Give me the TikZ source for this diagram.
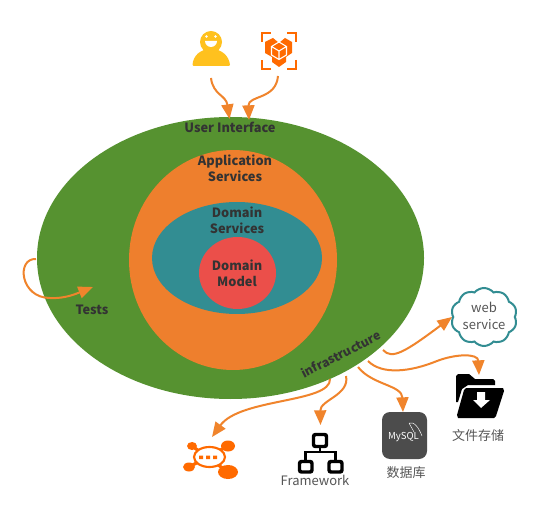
\documentclass[tikz,border=0pt]{standalone}
\usepackage{fontspec}
\setmainfont{Noto Sans CJK SC}
\usetikzlibrary{arrows.meta,shapes.symbols}
\definecolor{cgreen}{HTML}{569230}
\definecolor{corange}{HTML}{EE7F2D}
\definecolor{cteal}{HTML}{328D92}
\definecolor{cred}{HTML}{EB4F4A}
\definecolor{carrow}{HTML}{F0842C}
\definecolor{cicon}{HTML}{FF6A00}
\definecolor{cyellow}{HTML}{FFC11E}
\definecolor{cdark}{HTML}{333333}
\definecolor{cgray}{HTML}{555555}
\tikzset{
  conn/.style={draw=carrow,line width=1.5pt,-{Triangle[length=11pt,width=9pt]}},
  layer/.style={font=\fontsize{9.6}{12}\selectfont\bfseries,text=cdark,align=center,inner sep=0pt},
  captxt/.style={font=\fontsize{9.75}{12.5}\selectfont,text=cgray,align=center,inner sep=0pt},
}
\begin{document}
\begin{tikzpicture}[x=0.75pt,y=-0.75pt]
\useasboundingbox (0,0) rectangle (552,523);
\fill[white] (0,0) rectangle (552,523);
% layers
\fill[cgreen] (230.5,258) ellipse [x radius=193.5,y radius=141];
\fill[corange] (233,260) ellipse [x radius=104,y radius=110];
\fill[cteal] (237,258) ellipse [x radius=85,y radius=56];
\fill[cred] (237.5,273) ellipse [x radius=38.5,y radius=36];
% labels
\node[layer] (ui) at (230,127) {User Interface};
\node[layer] (app) at (235,168) {Application\\Services};
\node[layer] (ds) at (237,220) {Domain\\Services};
\node[layer] (dm) at (237,273) {Domain\\Model};
\node[layer] (tests) at (92,310) {Tests};
\node[layer,font=\fontsize{9.2}{11}\selectfont\bfseries,rotate=27] (infra) at (341,354) {infrastructure};
% anchors
\coordinate (personBase) at (211,78);
\coordinate (cubeBase) at (278,76);
\coordinate (uiA) at (229.5,119);
\coordinate (uiB) at (249,120);
\coordinate (testIn) at (36,259);
\coordinate (testOut) at (93,287);
\coordinate (o1) at (383,350);
\coordinate (o2) at (368,361);
\coordinate (o3) at (358,367);
\coordinate (o4) at (346,376);
\coordinate (o5) at (330,379);
\coordinate (webIn) at (452,317);
\coordinate (fileIn) at (479,375);
\coordinate (dbIn) at (403,412);
\coordinate (fwIn) at (320.5,425);
\coordinate (robotIn) at (212,437);
% connectors
\draw[conn] (personBase) .. controls (213,95) and (226,95) .. (uiA);
\draw[conn] (cubeBase) .. controls (276,100) and (248,95) .. (uiB);
\draw[conn] (testIn) .. controls (16,258) and (20,298) .. (50,298) .. controls (65,299) and (78,293) .. (testOut);
\draw[conn] (o1) .. controls (392,360) and (405,352) .. (webIn);
\draw[conn] (o2) .. controls (382,375) and (410,372) .. (437,361) .. controls (455,354) and (478,353) .. (fileIn);
\draw[conn] (o3) .. controls (372,385) and (402,385) .. (dbIn);
\draw[conn] (o4) .. controls (350,395) and (320,400) .. (fwIn);
\draw[conn] (o5) .. controls (331,403) and (240,398) .. (robotIn);
% cloud
\node[cloud,cloud puffs=10,cloud puff arc=100,aspect=1.15,draw=cteal,line width=1.5pt,minimum width=66*0.75pt,minimum height=58*0.75pt,inner sep=0pt,fill=white] (web) at (484,317) {};
\node[captxt] (webt) at (484,316) {web\\service};
% person
\fill[cyellow] (192.5,65) .. controls (193,56) and (200,49) .. (211,49) .. controls (222,49) and (229,56) .. (230,65) -- (229,66) -- (193.5,66) -- cycle;
\fill[cyellow] (211,42) circle [radius=11];
\fill[white] (205,41) arc [start angle=180,end angle=0,radius=6] -- cycle;
\fill[white] (206.5,36.5) circle [radius=1.3] (215.5,36.5) circle [radius=1.3];
% cube icon
\draw[cicon,line width=1.5pt] (262,42) -- (262,33) -- (271,33) (287,33) -- (296,33) -- (296,42) (296,60) -- (296,69) -- (287,69) (271,69) -- (262,69) -- (262,60);
\fill[cicon] (279,43) -- (285,38) -- (292,42) -- (292,53) -- (286,57) -- (286,62) -- (279,67) -- (272,62) -- (272,57) -- (265,53) -- (265,42) -- (273,38) -- cycle;
\draw[white,line width=0.8pt] (279,42) -- (271.5,46.5) -- (271.5,55) -- (279,59.5) -- (286.5,55) -- (286.5,46.5) -- cycle (279,51) -- (279,59.5) (279,51) -- (271.5,46.5) (279,51) -- (286.5,46.5);
% folder
\fill[black] (456,376) -- (458,374) -- (469,374) -- (475,379) -- (493,379) -- (495,381) -- (495,385) -- (468,385) -- (462,389) -- (458,402) -- (456,402) -- cycle;
\fill[black] (466,388) -- (503,388) -- (504,391) -- (496,416) -- (494,418) -- (458,418) -- (457,415) -- (464,390) -- cycle;
\fill[white] (477,392) -- (485,392) -- (485,400) -- (490,400) -- (481,408) -- (473,400) -- (477,400) -- cycle;
\node[captxt] (filet) at (478,436) {文件存储};
% mysql
\fill[black!70,rounded corners=6pt] (382,412) rectangle (427,459);
\node[text=white,font=\fontsize{7.2}{8}\selectfont,inner sep=0pt] (mysql) at (403.5,437) {MySQL};
\draw[white,line width=0.35pt] (409,423) .. controls (414,421) and (419,428) .. (422,436) (409,423) -- (414,432);
\node[captxt] (dbt) at (406,473) {数据库};
% framework
\draw[black,line width=2.6pt,rounded corners=1.5pt] (313.5,434.5) rectangle (326.5,446.5) (299.5,461.5) rectangle (312,472) (329,461.5) rectangle (342,472);
\draw[black,line width=2.2pt] (320,447) -- (320,452) (305.5,461) -- (305.5,452) -- (335.5,452) -- (335.5,461);
\node[captxt] (fwt) at (315,480) {Framework};
% robot
\draw[cicon,line width=2.4pt] (192,446) -- (228,472) (228,446) -- (189,467);
\draw[cicon,line width=1.6pt,fill=white] (209.5,457) ellipse [x radius=15.5,y radius=10];
\fill[cicon] (192,446) ellipse [x radius=5,y radius=4];
\fill[cicon] (228,446) ellipse [x radius=7,y radius=5.5];
\fill[cicon] (189,467) ellipse [x radius=6,y radius=4.5];
\fill[cicon] (228,472) ellipse [x radius=10,y radius=7];
\fill[cicon] (199,455.5) rectangle (203,459) (206,455.5) rectangle (210,459) (213,455.5) rectangle (217,459);
\end{tikzpicture}
\end{document}
